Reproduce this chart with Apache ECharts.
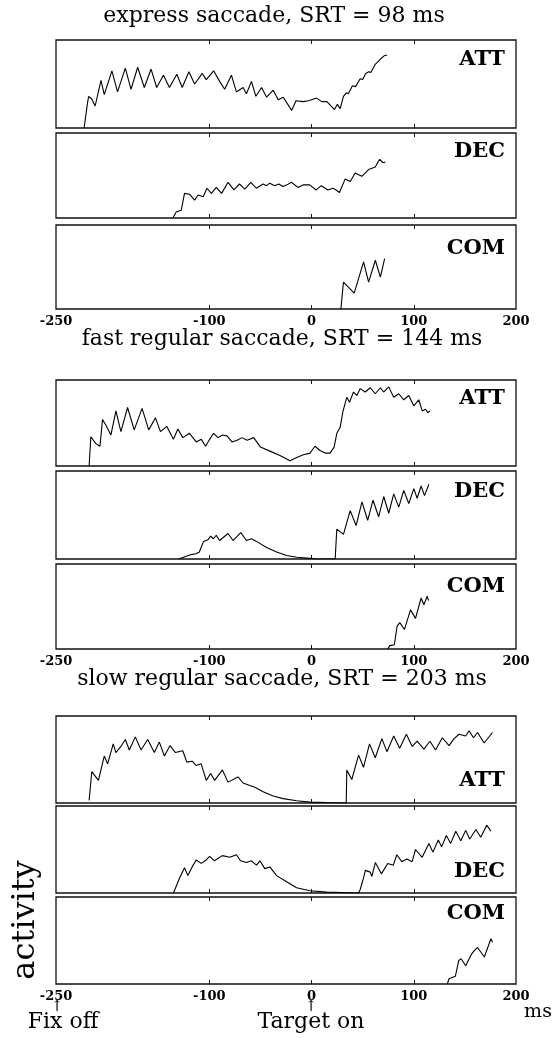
<!DOCTYPE html>
<html><head><meta charset="utf-8">
<script src="https://cdn.jsdelivr.net/npm/echarts@6/dist/echarts.min.js"></script>
<style>html,body{margin:0;padding:0;background:#fff}#c{width:559px;height:1038px}</style>
</head><body><div id="c"></div>
<script>
// ---- data (time in ms, activity normalized 0..1) ----
const titles = ['express saccade, SRT = 98 ms', 'fast regular saccade, SRT = 144 ms', 'slow regular saccade, SRT = 203 ms'];
const panelNames = ['ATT', 'DEC', 'COM'];
const tickLabels = [-250, -100, 0, 100, 200];
const tickMarks = [-100, 0, 100];

const expressATT = [[-222.5,0],[-219,0.30],[-218,0.36],[-215,0.33],[-211.7,0.25],[-206,0.54],[-202.8,0.38],[-195.3,0.65],[-189.8,0.41],[-182.2,0.68],[-176.6,0.44],[-170.1,0.69],[-163.6,0.46],[-157,0.67],[-151.5,0.46],[-144.9,0.60],[-139,0.46],[-131.8,0.61],[-126.5,0.46],[-120,0.64],[-114.4,0.50],[-106.9,0.62],[-103,0.55],[-95.8,0.65],[-89.9,0.53],[-85,0.44],[-78.4,0.60],[-73.5,0.41],[-67,0.46],[-63.7,0.39],[-58.8,0.53],[-54.5,0.36],[-48.9,0.46],[-44,0.35],[-37.5,0.43],[-32.6,0.32],[-27.7,0.35],[-19.5,0.20],[-15.2,0.31],[-8,0.30],[-3,0.31],[5,0.34],[10,0.30],[15,0.30],[22.4,0.21],[25.3,0.27],[28,0.22],[31.2,0.36],[34,0.40],[36,0.39],[40,0.48],[43,0.47],[47.6,0.56],[50,0.55],[53,0.62],[56,0.64],[58,0.63],[62,0.72],[65.6,0.76],[68,0.79],[71,0.82],[73.9,0.83]];
const expressDEC = [[-135.7,0],[-132.4,0.07],[-127.5,0.09],[-124.3,0.29],[-119.4,0.28],[-114.4,0.21],[-111,0.27],[-106,0.25],[-102.3,0.35],[-98,0.29],[-93.2,0.36],[-88,0.29],[-81.7,0.42],[-76,0.33],[-70.5,0.40],[-65.3,0.34],[-59.4,0.42],[-54,0.35],[-47.4,0.40],[-44,0.38],[-41,0.41],[-36,0.38],[-32,0.40],[-28,0.37],[-24,0.39],[-19.8,0.42],[-13.3,0.36],[-8,0.39],[-1.9,0.39],[4.6,0.33],[9.5,0.38],[16,0.33],[21,0.35],[24,0.33],[27.3,0.30],[32.9,0.46],[37.8,0.43],[42.7,0.53],[49.2,0.49],[55.8,0.57],[62.3,0.60],[66.6,0.69],[69.9,0.65],[72.2,0.66]];
const expressCOM = [[28.7,0],[31.2,0.32],[41.7,0.19],[50.9,0.56],[55.8,0.32],[62.4,0.58],[67.3,0.38],[71.5,0.60]];

const fastATT = [[-217.6,0],[-215.9,0.34],[-211,0.26],[-207,0.23],[-204.5,0.54],[-201,0.47],[-196.3,0.36],[-191.4,0.64],[-186.5,0.40],[-180,0.68],[-173.5,0.42],[-165.8,0.67],[-159.3,0.42],[-152.7,0.56],[-147.8,0.40],[-141.6,0.46],[-135.1,0.31],[-130.8,0.43],[-125.9,0.33],[-119.4,0.38],[-112.8,0.28],[-107.9,0.31],[-103.6,0.23],[-99.7,0.31],[-95.8,0.38],[-91.5,0.33],[-87,0.36],[-82.7,0.35],[-77.8,0.28],[-72.9,0.30],[-68,0.33],[-63.1,0.30],[-56.6,0.33],[-50,0.22],[-40.2,0.17],[-30.4,0.12],[-21.1,0.06],[-14.5,0.10],[-8,0.13],[-1.5,0.15],[3.4,0.23],[8.3,0.18],[13.2,0.15],[18.1,0.15],[22.1,0.22],[24.7,0.38],[28,0.45],[30.6,0.63],[34.5,0.80],[37.1,0.74],[41,0.86],[44.3,0.82],[47.6,0.90],[52.5,0.86],[57.4,0.91],[62.3,0.84],[67.3,0.91],[70.5,0.86],[75.5,0.92],[80.4,0.80],[85.3,0.84],[90.2,0.77],[95.1,0.82],[100,0.70],[104.9,0.77],[108.2,0.64],[111.5,0.66],[113.8,0.62],[115.8,0.64]];
const fastDEC = [[-130,0],[-117.7,0.05],[-113,0.06],[-109.8,0.08],[-105.6,0.20],[-101.3,0.22],[-98.7,0.26],[-96,0.23],[-93.2,0.27],[-90,0.21],[-81.7,0.29],[-76.8,0.21],[-69.3,0.30],[-63.7,0.21],[-58.8,0.23],[-53.9,0.20],[-44,0.13],[-34.2,0.08],[-24.4,0.04],[-14.5,0.02],[-4.7,0.01],[5.1,0],[23.1,0],[24.7,0.34],[31.2,0.28],[37.8,0.55],[43.6,0.38],[49.3,0.65],[54.9,0.44],[60.1,0.67],[65.6,0.48],[70.6,0.71],[75.5,0.52],[80.4,0.74],[85.3,0.59],[90.2,0.78],[95.1,0.63],[100,0.80],[103.3,0.69],[107.2,0.83],[110.5,0.72],[114.8,0.85]];
const fastCOM = [[74.5,0],[76.5,0.04],[81,0.05],[83.7,0.27],[86.3,0.31],[90.9,0.23],[96.8,0.46],[101.7,0.36],[107.2,0.60],[109.9,0.52],[113.1,0.62],[114.5,0.57]];

const slowATT = [[-217.6,0.03],[-215,0.36],[-208.5,0.26],[-202.8,0.54],[-199.5,0.45],[-194,0.68],[-191.4,0.58],[-186.5,0.65],[-182.2,0.73],[-178.3,0.61],[-172.4,0.76],[-166.8,0.61],[-160.3,0.73],[-153.8,0.58],[-148.9,0.70],[-144,0.54],[-138.4,0.66],[-133.1,0.58],[-126,0.60],[-122,0.47],[-116.8,0.48],[-112.8,0.43],[-108,0.45],[-103,0.26],[-98.7,0.34],[-94.8,0.26],[-87.2,0.38],[-81.7,0.24],[-71.9,0.30],[-67,0.23],[-60.4,0.20],[-55.5,0.18],[-47.4,0.13],[-37.5,0.08],[-27.7,0.05],[-14.6,0.025],[-1.5,0.01],[14.9,0.005],[33.9,0],[34.5,0.38],[39.4,0.27],[46,0.55],[50.8,0.41],[56.7,0.68],[62.3,0.52],[68.8,0.74],[73.7,0.59],[80.4,0.77],[86.2,0.63],[92.8,0.79],[98.4,0.65],[103.3,0.71],[109.9,0.62],[115.8,0.71],[121.3,0.61],[127.9,0.75],[134.5,0.66],[139.4,0.74],[144.3,0.79],[150.8,0.77],[154.1,0.83],[158.4,0.75],[162.4,0.81],[168.8,0.69],[177,0.81]];
const slowDEC = [[-135.1,0],[-129.2,0.17],[-124.3,0.29],[-121,0.20],[-116.8,0.30],[-112.8,0.38],[-108,0.34],[-103,0.38],[-99.7,0.42],[-95,0.37],[-87.2,0.43],[-80,0.41],[-73.5,0.44],[-69.5,0.37],[-63.7,0.35],[-58.8,0.37],[-53.9,0.32],[-50.5,0.37],[-45.8,0.28],[-40.8,0.30],[-34.2,0.20],[-24.4,0.13],[-14.6,0.06],[-1.5,0.025],[14.9,0.01],[46,0],[47.6,0.04],[51,0.18],[52.6,0.26],[57.4,0.24],[59,0.19],[62.4,0.35],[68.3,0.22],[74.5,0.34],[80,0.32],[83.4,0.44],[88.3,0.36],[93.2,0.39],[98.4,0.36],[101.7,0.50],[108.2,0.41],[114.8,0.57],[118.7,0.47],[124,0.61],[127.2,0.53],[131.9,0.66],[136.1,0.57],[141.1,0.71],[146,0.60],[150.8,0.72],[154.7,0.62],[160.8,0.73],[165.5,0.64],[171.3,0.78],[175.5,0.71]];
const slowCOM = [[132.8,0],[134.5,0.06],[140.7,0.09],[144,0.27],[146.3,0.29],[150.8,0.21],[156.3,0.34],[159,0.38],[162.4,0.42],[169,0.31],[175.5,0.52],[177,0.48]];

const seriesData = [[expressATT, expressDEC, expressCOM],[fastATT, fastDEC, fastCOM],[slowATT, slowDEC, slowCOM]];

// ---- layout ----
const LEFT = 56, WIDTH = 460;
const panelBoxes = [
  [[40,88],[133,85],[225,84]],
  [[380,86],[471,88],[564,85]],
  [[716,87],[806,87],[897,87]]
];
const titlePos = [[274,16],[282,339],[282,679]];
const namePosY = [[60,152,249],[399,492,587],[781,872,914]];

const SERIF = '"DejaVu Serif", "Liberation Serif", serif';
const grids = [], xAxes = [], yAxes = [], series = [], graphics = [];
let gi = 0;
for (let g = 0; g < 3; g++) {
  graphics.push({type:'text', style:{text: titles[g], x: titlePos[g][0], y: titlePos[g][1], font: '22px ' + SERIF, fill:'#000', textAlign:'center', textVerticalAlign:'middle'}});
  for (let p = 0; p < 3; p++) {
    const [top, h] = panelBoxes[g][p];
    grids.push({left: LEFT, width: WIDTH, top: top, height: h, show: true, borderColor: '#111', borderWidth: 1.3, backgroundColor: 'transparent'});
    const isBottom = p === 2;
    xAxes.push({gridIndex: gi, type:'value', min:-250, max:200, position:'bottom',
      axisLine:{show:false}, splitLine:{show:false},
      axisTick:{show:true, inside:true, length:4, customValues: tickMarks, lineStyle:{color:'#111', width:1}},
      axisLabel:{show:isBottom, customValues: tickLabels, fontFamily: SERIF, fontWeight:'bold', fontSize:13, color:'#000', margin:6}});
    xAxes.push({gridIndex: gi, type:'value', min:-250, max:200, position:'top',
      axisLine:{show:false}, splitLine:{show:false},
      axisTick:{show:true, inside:true, length:4, customValues: tickMarks, lineStyle:{color:'#111', width:1}},
      axisLabel:{show:false}});
    yAxes.push({gridIndex: gi, type:'value', min:0, max:1, show:false});
    series.push({type:'line', xAxisIndex: gi*2, yAxisIndex: gi, data: seriesData[g][p], showSymbol:false, symbol:'none', animation:false,
      lineStyle:{color:'#000', width:1.1}});
    graphics.push({type:'text', style:{text: panelNames[p], x: 505, y: namePosY[g][p], font: 'bold 21px ' + SERIF, fill:'#000', textAlign:'right', textVerticalAlign:'middle'}});
    gi++;
  }
}
// bottom annotations
graphics.push({type:'text', style:{text:'↑', x:57, y:1007, font:'15px ' + SERIF, fill:'#000', textAlign:'center', textVerticalAlign:'middle'}});
graphics.push({type:'text', style:{text:'↑', x:311, y:1007, font:'15px ' + SERIF, fill:'#000', textAlign:'center', textVerticalAlign:'middle'}});
graphics.push({type:'text', style:{text:'Fix off', x:63, y:1022, font:'22px ' + SERIF, fill:'#000', textAlign:'center', textVerticalAlign:'middle'}});
graphics.push({type:'text', style:{text:'Target on', x:311, y:1022, font:'22px ' + SERIF, fill:'#000', textAlign:'center', textVerticalAlign:'middle'}});
graphics.push({type:'text', style:{text:'ms', x:538, y:1012, font:'19px ' + SERIF, fill:'#000', textAlign:'center', textVerticalAlign:'middle'}});
graphics.push({type:'text', rotation: Math.PI/2, x: 26, y: 920, style:{text:'activity', x:0, y:0, font:'32px ' + SERIF, fill:'#000', textAlign:'center', textVerticalAlign:'middle'}});

const chart = echarts.init(document.getElementById('c'), null, {renderer:'canvas'});
chart.setOption({animation:false, backgroundColor:'#fff', grid: grids, xAxis: xAxes, yAxis: yAxes, series: series, graphic: graphics});
</script></body></html>
